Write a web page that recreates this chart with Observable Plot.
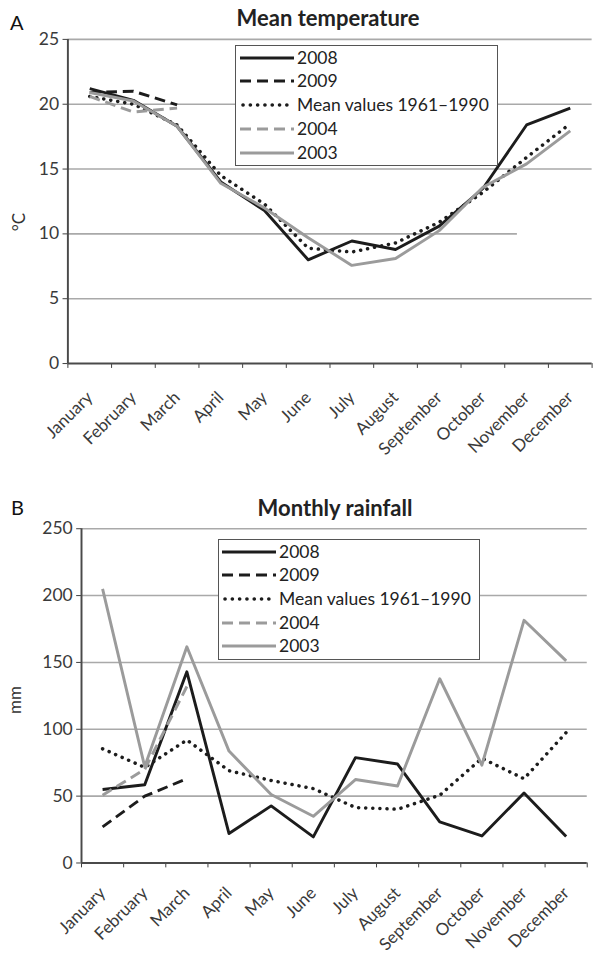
<!DOCTYPE html>
<html><head><meta charset="utf-8">
<script src="https://cdn.jsdelivr.net/npm/d3@7"></script>
<script src="https://cdn.jsdelivr.net/npm/@observablehq/plot@0.6"></script>
<style>
html,body{margin:0;padding:0;background:#fff;overflow:hidden;}
#wrap{position:relative;width:603px;height:958px;overflow:hidden;font-family:Lato,"Open Sans",sans-serif;color:#2a2a2a;}
.panel{position:absolute;left:0;}
.letter{position:absolute;font-size:20px;color:#111;line-height:1;}
.title{position:absolute;font-size:22px;font-weight:bold;color:#222;transform:translateX(-50%);white-space:nowrap;line-height:1;}
.ylab{position:absolute;font-size:17px;color:#333;line-height:1;white-space:nowrap;transform:translate(-50%,-50%) rotate(-90deg);}
.legend{position:absolute;background:#fff;border:1.5px solid #555;box-sizing:border-box;z-index:2;}
.row{position:absolute;left:0;right:0;height:24px;}
.row svg{position:absolute;top:7px;}
.row span{position:absolute;top:0;font-size:17.5px;line-height:24px;color:#222;white-space:nowrap;}
.panel svg g[aria-label="x-axis tick label"] text{font-size:17.5px;}
.panel svg g[aria-label="y-axis tick label"] text{font-size:18px;}
</style>
</head><body>
<div id="wrap">
  <div class="letter" style="left:10px;top:12px;">A</div>
  <div class="title" style="left:328px;top:7px;">Mean temperature</div>
  <div class="letter" style="left:11px;top:497px;">B</div>
  <div class="title" style="left:335px;top:497px;">Monthly rainfall</div>
  <div id="p1" class="panel" style="top:0px;"></div>
  <div id="p2" class="panel" style="top:480px;"></div>
  <div class="ylab" style="left:18px;top:222px;">°C</div>
  <div class="ylab" style="left:14px;top:700px;">mm</div>
  <div id="leg1" class="legend" style="left:235px;top:45px;width:263px;height:121px;"></div>
  <div id="leg2" class="legend" style="left:218px;top:539px;width:262px;height:121px;"></div>
</div>
<script>
const months = ["January","February","March","April","May","June","July","August","September","October","November","December"];
const seriesNames = ["2008","2009","Mean values 1961\u20131990","2004","2003"];

// Mean temperature (°C)
const temp2008 = [21.2, 20.3, 18.3, 14.0, 11.8, 8.0, 9.45, 8.8, 10.6, 13.5, 18.4, 19.7];
const temp2009 = [20.9, 21.0, 19.95];
const tempMean = [20.6, 20.0, 18.4, 14.5, 12.3, 8.9, 8.6, 9.3, 10.9, 13.2, 15.9, 18.5];
const temp2004 = [20.6, 19.4, 19.7];
const temp2003 = [20.9, 20.25, 18.3, 13.9, 12.0, 9.7, 7.57, 8.1, 10.25, 13.6, 15.4, 17.95];
const tempTicks = [0, 5, 10, 15, 20, 25];

// Monthly rainfall (mm)
const rain2008 = [55, 58.5, 143, 22, 42.7, 19.5, 78.8, 74, 30.7, 20.2, 52.4, 19.8];
const rain2009 = [27, 50, 63];
const rainMean = [85.4, 71.5, 92, 69, 61.7, 55.6, 41.5, 40.2, 50.7, 78.3, 63, 97.6];
const rain2004 = [50.7, 70, 132];
const rain2003 = [205, 72, 161.7, 83.7, 51.2, 34.9, 62.4, 57.6, 137.8, 73.2, 181.5, 151.2];
const rainTicks = [0, 50, 100, 150, 200, 250];

const BLACK = "#1c1c1c", GRAY = "#9b9b9b";
const styles = [
  {stroke: BLACK, strokeWidth: 3, dash: null, cap: "butt"},
  {stroke: BLACK, strokeWidth: 3, dash: "11,6", cap: "butt"},
  {stroke: BLACK, strokeWidth: 3.6, dash: "0.1,7.2", cap: "round"},
  {stroke: GRAY, strokeWidth: 3, dash: "11,6", cap: "butt"},
  {stroke: GRAY, strokeWidth: 3, dash: null, cap: "butt"}
];

function buildChart(o) {
  const rows = [];
  o.series.forEach((vals, s) => vals.forEach((v, i) => rows.push({s, x: i + 0.5, y: v})));
  const grid = o.ticks.filter(t => t > 0).map(t => ({y: t, end: (o.gridBreak && o.gridBreak.value === t) ? o.gridBreak.end : 12}));
  const marks = [
    Plot.ruleY(grid, {y: "y", x1: 0, x2: "end", stroke: "#a9a9a9", strokeWidth: 1.6}),
    Plot.axisY({ticks: o.ticks, tickSize: 5, tickPadding: 4, label: null, fontSize: 18}),
    Plot.axisX({ticks: d3.range(0, 13), tickSize: 5, tickFormat: () => "", label: null}),
    Plot.axisX({ticks: months.map((m, i) => i + 0.5), tickSize: 0, tickPadding: o.labelPad, tickRotate: -45, tickFormat: d => months[Math.floor(d)], fontSize: 17.5, label: null}),
    Plot.ruleX([0], {stroke: "#4a4a4a", strokeWidth: 2}),
    Plot.ruleY([0], {x1: 0, x2: 12, stroke: "#4a4a4a", strokeWidth: 2})
  ];
  styles.forEach((st, s) => {
    marks.push(Plot.line(rows.filter(r => r.s === s), {
      x: "x", y: "y", stroke: st.stroke, strokeWidth: st.strokeWidth,
      strokeDasharray: st.dash, strokeLinecap: st.cap, strokeLinejoin: "round"
    }));
  });
  return Plot.plot({
    width: 620, height: o.height,
    marginLeft: o.ml, marginRight: 620 - o.ml - o.plotW, marginTop: o.mt, marginBottom: o.mb,
    style: {fontFamily: "Lato, 'Open Sans', sans-serif", fontSize: "18px", color: "#3a3a3a", background: "transparent", overflow: "visible"},
    x: {type: "linear", domain: [0, 12], axis: null},
    y: {domain: [0, o.ticks[o.ticks.length - 1]], axis: null},
    marks
  });
}

document.getElementById("p1").appendChild(buildChart({
  series: [temp2008, temp2009, tempMean, temp2004, temp2003],
  ticks: tempTicks, ml: 69.3, plotW: 539, mt: 40, height: 478, mb: 478 - 373.3,
  labelPad: 32,
  gridBreak: {value: 10, end: 10.29}
}));
document.getElementById("p2").appendChild(buildChart({
  series: [rain2008, rain2009, rainMean, rain2004, rain2003],
  ticks: rainTicks, ml: 83.3, plotW: 520, mt: 49.6, height: 476, mb: 476 - 393.3,
  labelPad: 28
}));

function buildLegend(id, swLeft, textLeft, rowTops) {
  const el = document.getElementById(id);
  seriesNames.forEach((name, s) => {
    const st = styles[s];
    const row = document.createElement("div");
    row.className = "row";
    row.style.top = rowTops[s] + "px";
    row.innerHTML = `<svg width="54" height="10" style="left:${swLeft}px"><line x1="${st.cap === "round" ? 3 : 0}" x2="54" y1="5" y2="5" stroke="${st.stroke}" stroke-width="${st.strokeWidth}" ${st.dash ? `stroke-dasharray="${st.dash}"` : ""} stroke-linecap="${st.cap}"/></svg><span style="left:${textLeft}px">${name}</span>`;
    el.appendChild(row);
  });
}
buildLegend("leg1", 4, 61, [0, 23, 47, 71, 95]);
buildLegend("leg2", 3, 60, [0, 23, 47, 71, 94]);
</script>
</body></html>
